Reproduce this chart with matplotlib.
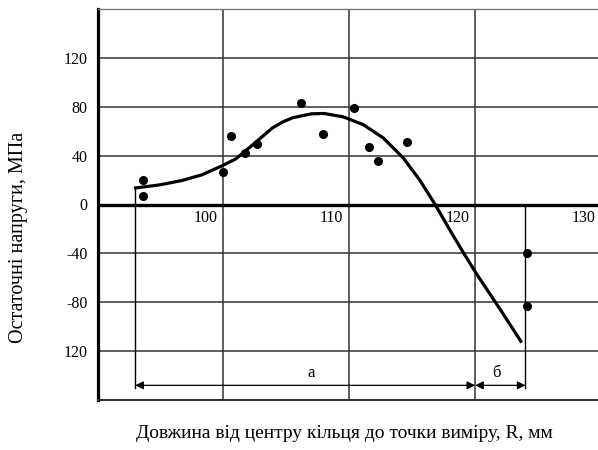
import matplotlib
matplotlib.use("Agg")
import matplotlib.pyplot as plt

plt.rcParams['font.family'] = ['Liberation Serif', 'DejaVu Serif']

# Крива (апроксимація) залишкових напружень
curve_x = [92.9, 94.9, 96.7, 98.3, 99.9, 101.0, 101.7, 102.3, 102.8, 103.9, 104.7, 105.5, 107.0, 108.0,
           109.5, 111.1, 112.7, 114.3, 115.6, 116.8, 118.0, 119.1, 120.1, 122.0, 123.7]
curve_y = [13.4, 16, 19.6, 24.3, 31.7, 37.4, 43.5, 48.5, 53, 62.7, 67.5, 71, 74.2, 74.5,
           71.8, 65.4, 54.5, 38, 20, 0.4, -21, -40, -56.6, -86, -113]

# Виміряні точки
pts_x = [93.6, 93.6, 100.0, 100.6, 101.7, 102.7, 106.2, 107.9, 110.4, 111.6, 112.3, 114.6, 124.1, 124.1]
pts_y = [20.2, 7, 27, 55.8, 42, 49.8, 83.3, 58, 79.2, 47, 36, 51, -40, -82.7]

x_ticks = [100, 110, 120, 130]
x_labels = ['100', '110', '120', '130']
y_ticks = [-120, -80, -40, 0, 40, 80, 120]
y_labels = ['120', '-80', '-40', '0', '40', '80', '120']

# межі зон а / б
zone_a = (93, 120)
zone_b = (120, 124)

fig = plt.figure(figsize=(5.98, 4.5), dpi=100)
ax = fig.add_axes([97.5 / 598, 50 / 450, 503.5 / 598, 391 / 450])
ax.set_xlim(90, 130)
ax.set_ylim(-160, 160)

ax.set_xticks(x_ticks[:-1])
ax.set_xticklabels([])
ax.set_yticks(y_ticks)
ax.set_yticklabels(y_labels, fontsize=11.5)
ax.tick_params(length=0)
ax.tick_params(axis='y', pad=7)
ax.grid(True, color='#333333', lw=1.1)

ax.spines['left'].set_linewidth(2.3)
ax.spines['bottom'].set_linewidth(1.5)
ax.spines['bottom'].set_color('#333333')
ax.spines['top'].set_linewidth(1.0)
ax.spines['top'].set_color('#777777')
ax.spines['right'].set_visible(False)

ax.axhline(0, color='black', lw=2.4)

for xv, lab in zip(x_ticks, x_labels):
    ax.text(xv - 1.4, -11, lab, fontsize=11.5, ha='center', va='center')

# розмірні лінії
ax.plot([zone_a[0], zone_a[0]], [curve_y[0], -150], color='black', lw=1.0)
ax.plot([zone_b[1], zone_b[1]], [0, -150], color='black', lw=1.0)
arrow = dict(arrowstyle='<|-|>', color='black', lw=0.9, shrinkA=0, shrinkB=0, mutation_scale=12)
ax.annotate('', xy=(zone_a[0], -148), xytext=(zone_a[1], -148), arrowprops=arrow)
ax.annotate('', xy=(zone_b[0], -148), xytext=(zone_b[1], -148), arrowprops=arrow)
ax.text(107.0, -138, 'а', fontsize=12, ha='center', va='center')
ax.text(121.7, -138, 'б', fontsize=12, ha='center', va='center')

ax.plot(curve_x, curve_y, color='black', lw=2.3, solid_capstyle='butt')
ax.plot(pts_x, pts_y, 'o', color='black', ms=5.5)

fig.text(19 / 598, 1 - 237 / 450, 'Остаточні напруги, МПа', rotation=90,
         fontsize=14.5, ha='center', va='center')
fig.text(344 / 598, 1 - 433 / 450, 'Довжина від центру кільця до точки виміру, R, мм',
         fontsize=14, ha='center', va='center')

fig.savefig('out.png', dpi=100)
